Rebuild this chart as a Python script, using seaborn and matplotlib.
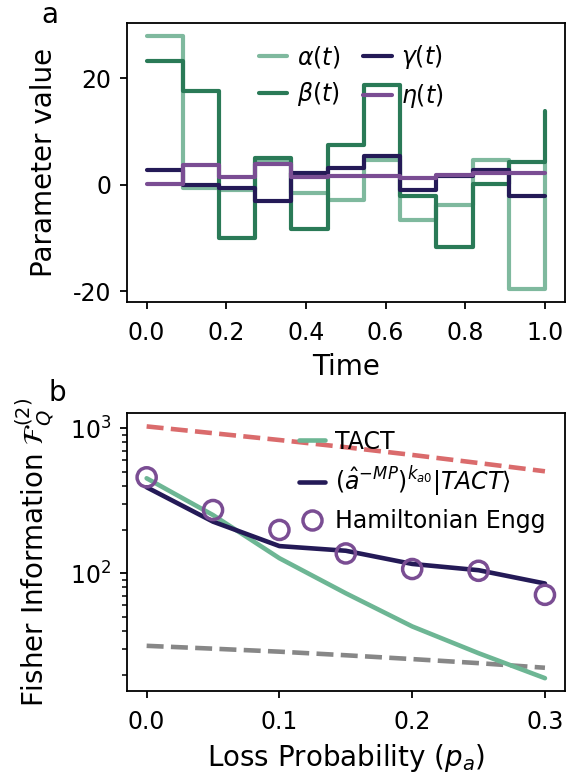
import numpy as np
import pandas as pd
import matplotlib
matplotlib.use("Agg")
import matplotlib.pyplot as plt
from matplotlib.lines import Line2D
import seaborn as sns

sns.set_theme(style="ticks")
plt.rcParams['font.family'] = ['DejaVu Sans']
plt.rcParams['axes.unicode_minus'] = False
plt.rcParams['axes.linewidth'] = 1.3
plt.rcParams['axes.edgecolor'] = 'black'
plt.rcParams['text.color'] = 'black'
plt.rcParams['axes.labelcolor'] = 'black'
plt.rcParams['xtick.color'] = 'black'
plt.rcParams['ytick.color'] = 'black'

# Panel a: piecewise-constant control parameters
time = [0.0, 0.0909, 0.1818, 0.2727, 0.3636, 0.4545, 0.5455,
        0.6364, 0.7273, 0.8182, 0.9091, 1.0]
alpha = [27.9, -0.6, -1.0, 4.2, -1.6, -2.8, 4.6, -6.7, -3.8, 4.7, -19.6, 4.0]
beta = [23.2, 17.6, -10.1, 5.0, -8.3, 7.35, 18.7, -2.2, -11.8, 0.1, 4.2, 13.9]
gamma = [2.8, -0.1, -0.6, -3.0, 2.2, 3.2, 5.3, -1.0, 1.7, 2.8, -2.2, -2.2]
eta = [0.2, 3.6, 1.5, 3.8, 1.5, 1.7, 1.65, 1.3, 1.8, 2.1, 2.2, 2.2]

# Panel b: Fisher information vs loss probability
p_loss = [0.0, 0.05, 0.1, 0.15, 0.2, 0.25, 0.3]
heisenberg = [1030, 925, 830, 740, 655, 576, 505]
sql = [31.6, 30.2, 28.8, 27.2, 25.6, 24.0, 22.3]
tact = [452, 252, 127, 72.8, 43.0, 28.1, 18.9]
tact_sub = [392, 227, 154, 143, 116, 105, 85]
ham_engg = [459, 273, 199, 137, 107, 104, 71]

c_alpha = '#7fb99e'
c_beta = '#2a7a57'
c_gamma = '#241a57'
c_eta = '#7a4d93'
c_tact = '#6db694'
c_red = '#da6b6c'
c_grey = '#878787'

df_a = pd.DataFrame({'t': time, 'alpha': alpha, 'beta': beta,
                     'gamma': gamma, 'eta': eta})
df_b = pd.DataFrame({'p': p_loss, 'hl': heisenberg, 'sql': sql, 'tact': tact,
                     'sub': tact_sub, 'ham': ham_engg})

fig = plt.figure(figsize=(5.66, 7.73), dpi=100)
ax1 = fig.add_axes([0.2239, 0.6097, 0.7741, 0.3602])
ax2 = fig.add_axes([0.2239, 0.1065, 0.7741, 0.3588])

lw = 3.0
for col, color in [('alpha', c_alpha), ('beta', c_beta),
                   ('gamma', c_gamma), ('eta', c_eta)]:
    sns.lineplot(data=df_a, x='t', y=col, ax=ax1, color=color, lw=lw,
                 drawstyle='steps-post', legend=False)

ax1.set_yticks([-20, 0, 20])
ax1.set_yticklabels(['-20', '0', '20'])
ax1.set_xticks([0.0, 0.2, 0.4, 0.6, 0.8, 1.0])
ax1.set_xlabel('Time', fontsize=20, labelpad=6)
ax1.set_ylabel('Parameter value', fontsize=20, labelpad=11)
h1 = [Line2D([], [], color=c, lw=lw) for c in [c_alpha, c_beta, c_gamma, c_eta]]
ax1.legend(h1, [r'$\alpha(t)$', r'$\beta(t)$', r'$\gamma(t)$', r'$\eta(t)$'],
           ncol=2, frameon=False, fontsize=17, handlelength=1.2,
           handletextpad=0.4, columnspacing=1.0, labelspacing=0.45,
           loc='upper left', bbox_to_anchor=(0.28, 0.962), borderaxespad=0)

# Panel b
sns.lineplot(data=df_b, x='p', y='hl', ax=ax2, color=c_red, lw=3.3,
             linestyle='--')
sns.lineplot(data=df_b, x='p', y='sql', ax=ax2, color=c_grey, lw=3.3,
             linestyle='--')
sns.lineplot(data=df_b, x='p', y='tact', ax=ax2, color=c_tact, lw=3.3)
sns.lineplot(data=df_b, x='p', y='sub', ax=ax2, color=c_gamma, lw=3.3)
sns.scatterplot(data=df_b, x='p', y='ham', ax=ax2, s=190, marker='o',
                facecolor='none', edgecolor=c_eta, linewidth=2.5, zorder=5)
ax2.set_yscale('log')
ax2.set_ylim(15.5, 1268)
ax2.set_xticks([0.0, 0.1, 0.2, 0.3])
ax2.set_xlabel(r'Loss Probability ($p_a$)', fontsize=20, labelpad=6)
ax2.set_ylabel(r'Fisher Information $\mathcal{F}_Q^{(2)}$', fontsize=20, labelpad=10)
h2 = [Line2D([], [], color=c_tact, lw=3.3),
      Line2D([], [], color=c_gamma, lw=3.3),
      Line2D([], [], linestyle='', marker='o', markersize=13.7,
             markerfacecolor='none', markeredgecolor=c_eta, markeredgewidth=2.5)]
ax2.legend(h2, ['TACT', r'$(\hat{a}^{-MP})^{k_{a0}}|TACT\rangle$', 'Hamiltonian Engg'],
           frameon=False, fontsize=17, handlelength=1.1, handletextpad=0.4,
           labelspacing=0.45, loc='upper left', bbox_to_anchor=(0.372, 0.975),
           borderaxespad=0)

for ax in (ax1, ax2):
    ax.tick_params(axis='both', which='major', labelsize=17, length=5, width=1.3)
    ax.tick_params(axis='x', which='major', pad=9)
    ax.tick_params(axis='y', which='major', pad=6)
    ax.tick_params(axis='y', which='minor', length=3.5, width=1.1)
    for s in ax.spines.values():
        s.set_visible(True)
        s.set_color('black')

fig.text(0.089, 0.981, 'a', fontsize=20, ha='center', va='center')
fig.text(0.102, 0.491, 'b', fontsize=20, ha='center', va='center')

fig.savefig('out.png', dpi=100)
